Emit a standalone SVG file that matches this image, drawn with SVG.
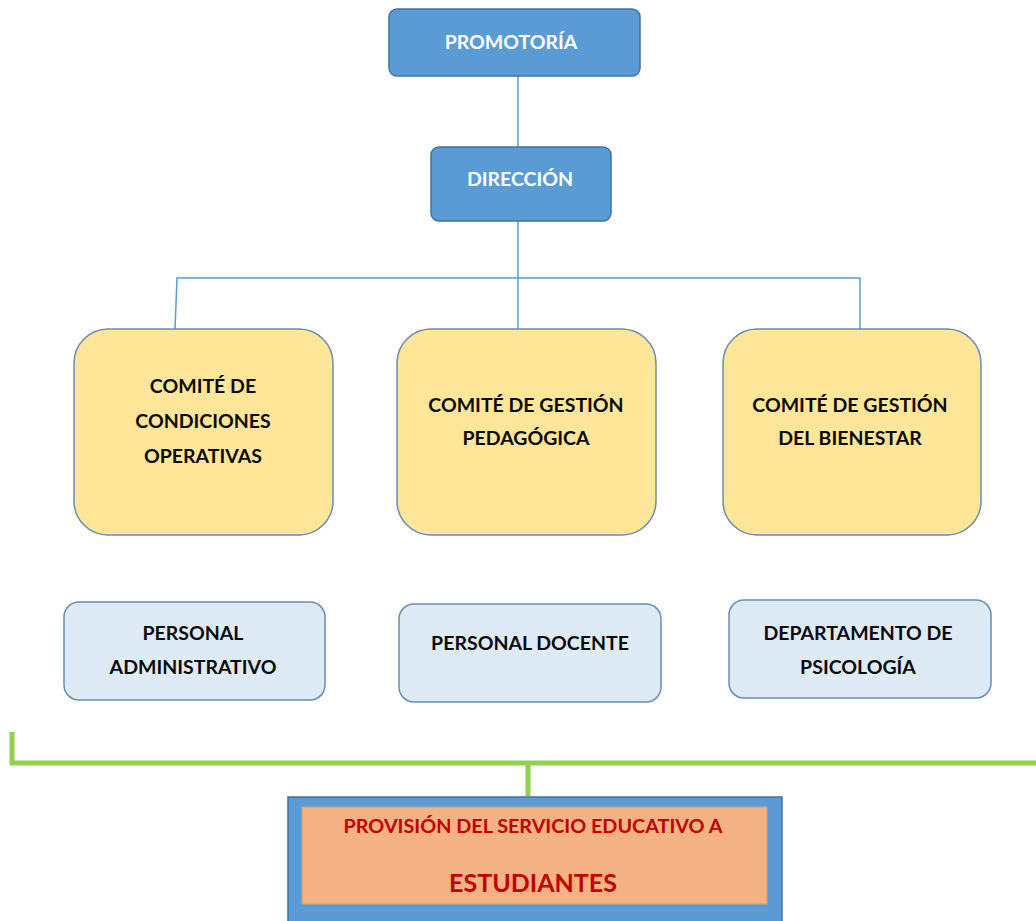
<svg xmlns="http://www.w3.org/2000/svg" width="1036" height="921" viewBox="0 0 1036 921">
<style>
text{font-family:"Lato","Liberation Sans",sans-serif;font-weight:bold;text-anchor:middle}
.top{fill:#5B9BD5;stroke:#41719C;stroke-width:1.5}
.top-t{fill:#fff;font-size:19.5px}
.com{fill:#FFE699;stroke:#6A8CB3;stroke-width:1.5}
.lb{fill:#DEEBF7;stroke:#6A8CB3;stroke-width:1.5}
.dk{fill:#0a0a0a;font-size:19.5px}
.con{fill:none;stroke:#5B9BD5;stroke-width:1.5}
.grn{fill:none;stroke:#92D050;stroke-width:5}
.red{fill:#C00000}
</style>
<g id="connectors">
<path class="con" d="M518 76V147M518 221V330M175 330L177 278H860V330"/>
<path class="grn" d="M12 732V763H1036M528 763V796"/>
</g>
<g id="promotoria"><rect class="top" x="389" y="9" width="251" height="67" rx="8"/><text class="top-t" x="511" y="49">PROMOTORÍA</text></g>
<g id="direccion"><rect class="top" x="431" y="147" width="180" height="74" rx="8"/><text class="top-t" x="520" y="186">DIRECCIÓN</text></g>
<g id="comite-condiciones"><rect class="com" x="74" y="329" width="259" height="206" rx="34"/><text class="dk" x="203" y="393">COMITÉ DE</text><text class="dk" x="203" y="428">CONDICIONES</text><text class="dk" x="203" y="463">OPERATIVAS</text></g>
<g id="comite-pedagogica"><rect class="com" x="397" y="329" width="259" height="206" rx="34"/><text class="dk" x="526" y="412">COMITÉ DE GESTIÓN</text><text class="dk" x="526" y="445">PEDAGÓGICA</text></g>
<g id="comite-bienestar"><rect class="com" x="723" y="329" width="258" height="206" rx="34"/><text class="dk" x="850" y="412">COMITÉ DE GESTIÓN</text><text class="dk" x="850" y="445">DEL BIENESTAR</text></g>
<g id="personal-administrativo"><rect class="lb" x="64" y="602" width="261" height="98" rx="15"/><text class="dk" x="193" y="640">PERSONAL</text><text class="dk" x="193" y="674">ADMINISTRATIVO</text></g>
<g id="personal-docente"><rect class="lb" x="399" y="604" width="262" height="98" rx="15"/><text class="dk" x="530" y="650">PERSONAL DOCENTE</text></g>
<g id="departamento-psicologia"><rect class="lb" x="729" y="600" width="262" height="98" rx="15"/><text class="dk" x="858" y="640">DEPARTAMENTO DE</text><text class="dk" x="858" y="674">PSICOLOGÍA</text></g>
<g id="estudiantes"><rect x="288" y="797" width="494" height="130" fill="#5B9BD5" stroke="#41719C" stroke-width="1.5"/><rect x="302" y="807" width="465" height="97" fill="#F4B183" stroke="#C9A27F" stroke-width="1"/><text class="red" x="533" y="833" font-size="19.8">PROVISIÓN DEL SERVICIO EDUCATIVO A</text><text class="red" x="533" y="892" font-size="25">ESTUDIANTES</text></g>
</svg>
